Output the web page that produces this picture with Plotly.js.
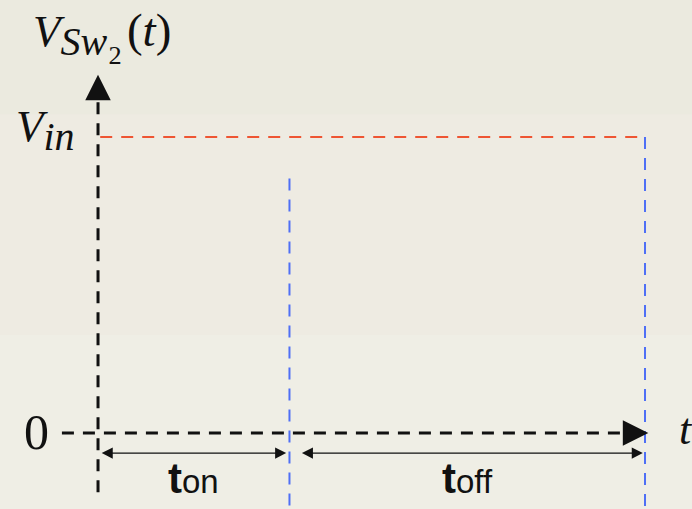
<!DOCTYPE html>
<html>
<head>
<meta charset="utf-8">
<script src="https://cdn.plot.ly/plotly-3.0.1.min.js"></script>
<style>
  html, body { margin: 0; padding: 0; background: #EEECE2; }
  #chart { width: 692px; height: 509px; }
</style>
</head>
<body>
<div id="chart"></div>
<script>
// ---- data (normalised: switching period T = 1, input voltage Vin = 1) ----
const tOn = 0.35;                 // end of on-interval
const period = 1.0;               // end of off-interval (T)
const vIn = 1.0;                  // V_in level
const timeAxisExtent = [-0.066, 1.006];   // dashed t-axis
const voltAxisExtent = [-0.2, 1.21];      // dashed V axis
const onMarkerY = [0.86, -0.3];           // blue dashed marker at t_on
const periodMarkerY = [1.0, -0.3];        // blue dashed marker at T
const levelT = [0.004, period];           // red dashed V_in level
const levelV = [vIn, vIn];
const intervalY = -0.068;                 // level of t_on / t_off dimension arrows
const intervalLabels = ["<b><span style='font-size:42px'>t</span></b>on",
                        "<b><span style='font-size:42px'>t</span></b>off"];
const tickLabels = ["0", "<i>V</i><sub><span style='font-size:40px'><i>in</i></span></sub>"];
const axisTitleV = "<i>V</i><sub><span style='font-size:40px'><i>Sw</i><span style='font-size:44px'>₂</span></span></sub><span style='font-size:22px'>\u2009</span><span style='font-size:47px'>(<i>t</i>)</span>";
const axisTitleT = "<i>t</i>";

const black = '#111111';
const red = '#EE5533';
const blue = '#4F6FF5';
const dash = '12px,9px';

const traces = [
  {x: levelT, y: levelV, mode: 'lines', line: {color: red, width: 2, dash: dash}, hoverinfo: 'skip'},
  {x: [tOn, tOn], y: onMarkerY, mode: 'lines', line: {color: blue, width: 2, dash: dash}, hoverinfo: 'skip'},
  {x: [period, period], y: periodMarkerY, mode: 'lines', line: {color: blue, width: 2, dash: dash}, hoverinfo: 'skip'},
  {x: timeAxisExtent, y: [0, 0], mode: 'lines', line: {color: black, width: 3, dash: dash}, hoverinfo: 'skip'},
  {x: [0, 0], y: voltAxisExtent, mode: 'lines', line: {color: black, width: 3, dash: dash}, hoverinfo: 'skip'}
];

const annotations = [
  // axis arrowheads
  {x: timeAxisExtent[1], y: 0, ax: timeAxisExtent[1] - 0.03, ay: 0, xref: 'x', yref: 'y', axref: 'x', ayref: 'y',
   text: '', showarrow: true, arrowhead: 2, arrowsize: 1.7, arrowwidth: 3, arrowcolor: black},
  {x: 0, y: voltAxisExtent[1], ax: 0, ay: voltAxisExtent[1] - 0.05, xref: 'x', yref: 'y', axref: 'x', ayref: 'y',
   text: '', showarrow: true, arrowhead: 2, arrowsize: 1.7, arrowwidth: 3, arrowcolor: black},
  // dimension arrows
  {x: tOn - 0.006, y: intervalY, ax: 0.004, ay: intervalY, xref: 'x', yref: 'y', axref: 'x', ayref: 'y',
   text: '', showarrow: true, arrowhead: 2, startarrowhead: 2, arrowside: 'end+start', arrowsize: 1.7, startarrowsize: 1.7,
   arrowwidth: 1.3, arrowcolor: black},
  {x: period - 0.004, y: intervalY, ax: tOn + 0.02, ay: intervalY, xref: 'x', yref: 'y', axref: 'x', ayref: 'y',
   text: '', showarrow: true, arrowhead: 2, startarrowhead: 2, arrowside: 'end+start', arrowsize: 1.7, startarrowsize: 1.7,
   arrowwidth: 1.3, arrowcolor: black},
  // interval labels
  {x: tOn / 2, y: intervalY, xref: 'x', yref: 'y', text: intervalLabels[0], showarrow: false,
   xanchor: 'center', yanchor: 'top', yshift: 0,
   font: {family: 'Liberation Sans, Arial, sans-serif', size: 33, color: '#111'}},
  {x: (tOn + period) / 2, y: intervalY, xref: 'x', yref: 'y', text: intervalLabels[1], showarrow: false,
   xanchor: 'center', yanchor: 'top', yshift: 0,
   font: {family: 'Liberation Sans, Arial, sans-serif', size: 33, color: '#111'}},
  // tick labels
  {x: 0, y: 0, xref: 'x', yref: 'y', text: tickLabels[0], showarrow: false,
   xanchor: 'right', yanchor: 'middle', xshift: -47, yshift: 1,
   font: {family: 'Liberation Serif, serif', size: 50, color: '#111'}},
  {x: 0, y: vIn, xref: 'x', yref: 'y', text: tickLabels[1], showarrow: false,
   xanchor: 'right', yanchor: 'middle', xshift: -21, yshift: 7,
   font: {family: 'Liberation Serif, serif', size: 45, color: '#111'}},
  // axis titles
  {x: 0, y: voltAxisExtent[1], xref: 'x', yref: 'y', text: axisTitleV, showarrow: false,
   xanchor: 'left', yanchor: 'bottom', xshift: -67, yshift: 8,
   font: {family: 'Liberation Serif, serif', size: 45, color: '#111'}},
  {x: timeAxisExtent[1], y: 0, xref: 'x', yref: 'y', text: axisTitleT, showarrow: false,
   xanchor: 'left', yanchor: 'middle', xshift: 29, yshift: 3,
   font: {family: 'Liberation Serif, serif', size: 44, color: '#111'}}
];

const shapes = [
  {type: 'rect', xref: 'paper', yref: 'paper', x0: 0, x1: 1, y0: 0.775, y1: 1,
   fillcolor: '#EBEADF', line: {width: 0}, layer: 'below'},
  {type: 'rect', xref: 'paper', yref: 'paper', x0: 0, x1: 1, y0: 0, y1: 0.342,
   fillcolor: '#EFEEE5', line: {width: 0}, layer: 'below'}
];

const layout = {
  width: 692, height: 509,
  margin: {l: 0, r: 0, t: 0, b: 0, pad: 0},
  paper_bgcolor: '#EEEBE2', plot_bgcolor: '#EEEBE2',
  showlegend: false,
  xaxis: {range: [-0.1792, 1.0859], visible: false, fixedrange: true},
  yaxis: {range: [-0.2568, 1.4628], visible: false, fixedrange: true},
  annotations: annotations,
  shapes: shapes
};

Plotly.newPlot('chart', traces, layout, {staticPlot: true, displayModeBar: false});
</script>
</body>
</html>
